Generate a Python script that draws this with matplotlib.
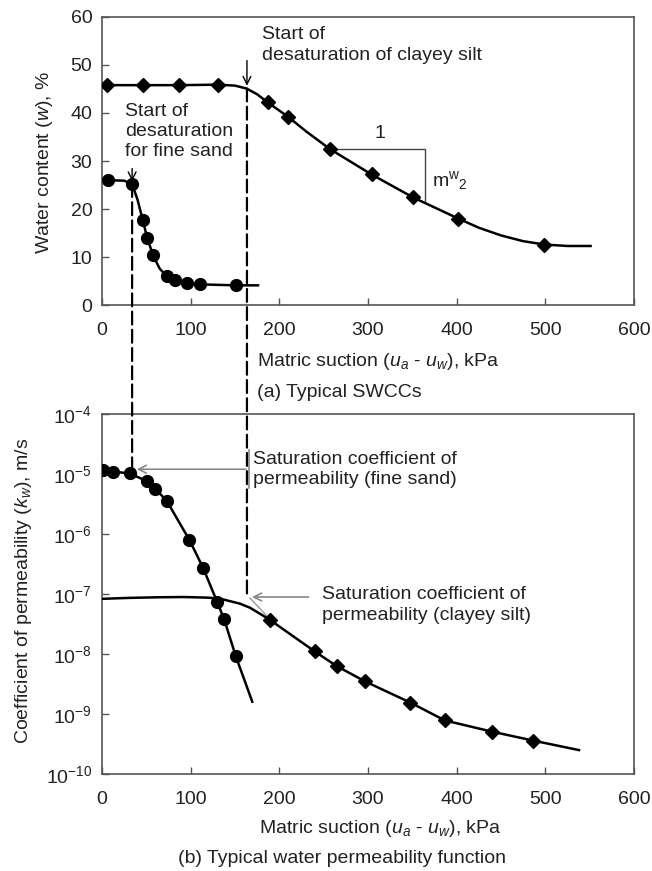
import numpy as np
import matplotlib
matplotlib.use("Agg")
import matplotlib.pyplot as plt
from matplotlib.patches import ConnectionPatch

plt.rcParams['font.family'] = ['Liberation Sans', 'DejaVu Sans']
plt.rcParams['mathtext.fontset'] = 'custom'
plt.rcParams['mathtext.rm'] = 'Liberation Sans'
plt.rcParams['mathtext.it'] = 'Liberation Sans:italic'
plt.rcParams['axes.unicode_minus'] = False

# (a) SWCC - clayey silt (diamonds)
silt_x = [6, 46, 87, 131, 187, 210, 257, 304, 351, 402, 499]
silt_w = [45.8, 45.8, 45.8, 45.9, 42.2, 39.2, 32.5, 27.2, 22.4, 18.0, 12.6]
silt_line_x = [0, 46, 87, 131, 150, 163, 175, 187, 210, 230, 257, 304, 351, 402, 425, 450, 475, 499, 525, 551]
silt_line_w = [45.8, 45.8, 45.8, 45.9, 45.7, 45.1, 43.9, 42.2, 39.2, 36.2, 32.5, 27.2, 22.4, 18.0, 16.1, 14.5, 13.3, 12.6, 12.3, 12.3]

# (a) SWCC - fine sand (circles)
sand_x = [7, 34, 46, 51, 57.5, 73, 82, 96, 111, 151]
sand_w = [26.0, 25.2, 17.7, 14.0, 10.4, 6.0, 5.2, 4.5, 4.3, 4.1]
sand_line_x = [0, 7, 25, 34, 40, 46, 51, 57.5, 65, 73, 82, 96, 111, 151, 176]
sand_line_w = [26.0, 26.0, 25.9, 25.2, 22.0, 17.7, 14.0, 10.4, 7.6, 6.0, 5.2, 4.5, 4.3, 4.1, 4.1]

# (b) permeability - fine sand (circles)
ksand_x = [1.5, 12, 31.6, 50.4, 59.8, 72.9, 98.5, 114.2, 130, 137.5, 151]
ksand_k = [1.15e-5, 1.1e-5, 1.02e-5, 7.6e-6, 5.7e-6, 3.6e-6, 8.0e-7, 2.7e-7, 7.3e-8, 3.9e-8, 9.1e-9]
ksand_line_x = ksand_x + [169.5]
ksand_line_k = ksand_k + [1.6e-9]

# (b) permeability - clayey silt (diamonds)
ksilt_x = [189.4, 240, 264.6, 296.5, 347.7, 386.7, 439.3, 486.3]
ksilt_k = [3.7e-8, 1.1e-8, 6.3e-9, 3.5e-9, 1.55e-9, 7.8e-10, 5.1e-10, 3.6e-10]
ksilt_line_x = [0, 30, 61.6, 91.7, 118, 129, 136.8, 155.6, 166.9, 178] + ksilt_x + [538]
ksilt_line_k = [8.3e-8, 8.6e-8, 8.8e-8, 8.9e-8, 8.7e-8, 8.5e-8, 8.1e-8, 6.9e-8, 5.9e-8, 4.7e-8] + ksilt_k + [2.5e-10]

# desaturation / saturation points
sand_aev, silt_aev = 34, 163.5
sand_aev_w, silt_aev_w = 25.2, 45.1
sand_ksat, silt_ksat = 1.2e-5, 8.9e-8

fig = plt.figure(figsize=(6.52, 8.71), dpi=100)
ax1 = fig.add_axes([0.1564, 0.6498, 0.816, 0.3307])
ax2 = fig.add_axes([0.1564, 0.1114, 0.816, 0.4133])

tc = '#222222'
for ax in (ax1, ax2):
    for s in ax.spines.values():
        s.set_color('#555555')
        s.set_linewidth(1.2)
    ax.tick_params(direction='in', length=5, width=1, colors='#555555',
                   labelcolor=tc, labelsize=14, right=False, top=False)
    ax.tick_params(axis='x', pad=12)
    ax.tick_params(axis='y', pad=7)
    ax.set_xlim(0, 600)
    ax.set_xticks(range(0, 601, 100))

lk = dict(color='k', lw=1.8, zorder=3)
ax1.plot(silt_line_x, silt_line_w, **lk)
ax1.plot(silt_x, silt_w, 'D', color='k', ms=7, zorder=4)
ax1.plot(sand_line_x, sand_line_w, **lk)
ax1.plot(sand_x, sand_w, 'o', color='k', ms=8.5, zorder=4)
ax1.set_ylim(0, 60)
ax1.set_yticks(range(0, 61, 10))

# slope triangle
ax1.plot([257, 364, 364], [32.5, 32.5, 21.6], color='#444444', lw=1, zorder=2)
ax1.text(313, 35.8, '1', fontsize=14, color=tc, ha='center', va='center')
ax1.text(372, 26, r'm$^{\rm w}$$_{\rm 2}$', fontsize=14, color=tc, ha='left', va='center')

ap = dict(arrowstyle='->', color='k', lw=1, mutation_scale=14)
ax1.annotate('', xy=(silt_aev, silt_aev_w), xytext=(silt_aev, 51.5), arrowprops=ap)
ax1.annotate('', xy=(sand_aev, sand_aev_w), xytext=(sand_aev, 29.0), arrowprops=ap)
ax1.text(181, 54.2, 'Start of\ndesaturation of clayey silt', fontsize=14, color=tc,
         ha='left', va='center', linespacing=1.35)
ax1.text(26, 36.1, 'Start of\ndesaturation\nfor fine sand', fontsize=14, color=tc,
         ha='left', va='center', linespacing=1.22)

ax2.set_yscale('log')
ax2.set_ylim(1e-10, 1e-4)
ax2.set_yticks([1e-10, 1e-9, 1e-8, 1e-7, 1e-6, 1e-5, 1e-4])
ax2.minorticks_off()
ax2.plot(ksilt_line_x, ksilt_line_k, **lk)
ax2.plot(ksilt_x, ksilt_k, 'D', color='k', ms=7, zorder=4)
ax2.plot(ksand_line_x, ksand_line_k, **lk)
ax2.plot(ksand_x, ksand_k, 'o', color='k', ms=8.5, zorder=4)

gp = dict(arrowstyle='->', color='#888888', lw=1.2, mutation_scale=14)
ax2.annotate('', xy=(36, sand_ksat), xytext=(165.5, sand_ksat), arrowprops=gp)
ax2.plot([165.5, 165.5], [2.5e-5, 5.9e-6], color='#888888', lw=1.2)
ax2.annotate('', xy=(166, silt_ksat), xytext=(236, silt_ksat), arrowprops=gp)
ax2.plot([167, 189.4], [8.5e-8, 3.8e-8], color='#999999', lw=1)
ax2.text(170, 1.2e-5, 'Saturation coefficient of\npermeability (fine sand)', fontsize=14,
         color=tc, ha='left', va='center', linespacing=1.25)
ax2.text(248, 6.6e-8, 'Saturation coefficient of\npermeability (clayey silt)', fontsize=14,
         color=tc, ha='left', va='center', linespacing=1.3)

# dashed links between the two plots
dash = dict(color='k', lw=1.6, linestyle=(0, (5.8, 2.4)), zorder=5)
for xs, wa, kb in [(sand_aev, sand_aev_w, sand_ksat), (silt_aev, silt_aev_w, silt_ksat)]:
    con = ConnectionPatch(xyA=(xs, wa), coordsA=ax1.transData,
                          xyB=(xs, kb), coordsB=ax2.transData, **dash)
    fig.add_artist(con)

# labels
fig.text(45 / 652, 1 - 162 / 871, r'Water content ($w$), %', rotation=90, fontsize=14,
         color=tc, ha='center', va='center')
fig.text(257 / 652, 1 - 362 / 871, r'Matric suction ($u_a$ - $u_w$), kPa', fontsize=14,
         color=tc, ha='left', va='center')
fig.text(257 / 652, 1 - 392 / 871, '(a) Typical SWCCs', fontsize=14, color=tc,
         ha='left', va='center')
fig.text(24 / 652, 1 - 591 / 871, r'Coefficient of permeability ($k_w$), m/s', rotation=90,
         fontsize=14, color=tc, ha='center', va='center')
fig.text(380 / 652, 1 - 828 / 871, r'Matric suction ($u_a$ - $u_w$), kPa', fontsize=14,
         color=tc, ha='center', va='center')
fig.text(342 / 652, 1 - 858 / 871, '(b) Typical water permeability function', fontsize=14,
         color=tc, ha='center', va='center')

fig.savefig('out.png', dpi=100)
